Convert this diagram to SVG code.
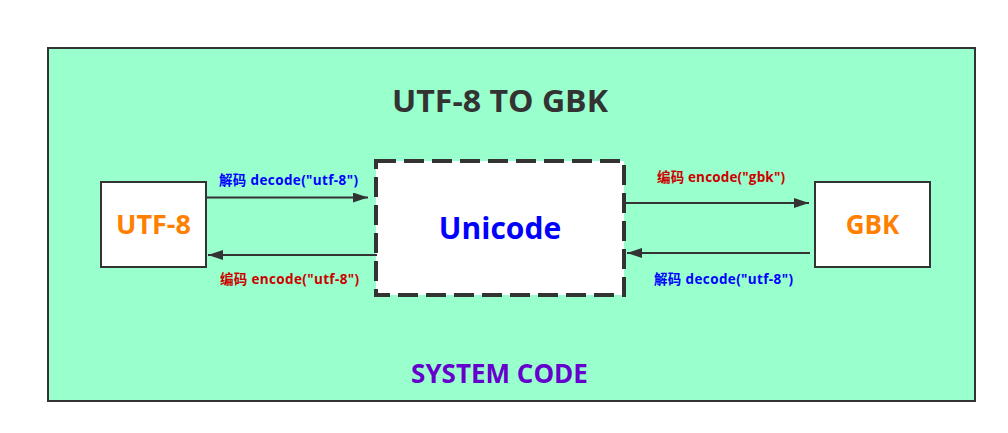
<svg xmlns="http://www.w3.org/2000/svg" width="1008" height="433" viewBox="0 0 1008 433">
  <defs>
    <marker id="arrow" viewBox="0 0 15 10" refX="15" refY="5" markerWidth="15" markerHeight="10" markerUnits="userSpaceOnUse" orient="auto">
      <path d="M0,0 L15,5 L0,10 z" fill="#333333"/>
    </marker>
    <style>
      .box { fill: #ffffff; stroke: #333333; stroke-width: 2; }
      .dash { fill: #ffffff; stroke: #333333; stroke-width: 4; stroke-dasharray: 20 8; }
      .conn { stroke: #333333; stroke-width: 2; fill: none; marker-end: url(#arrow); }
      .lbl { font-family: "Open Sans", "Noto Sans CJK SC", sans-serif; font-weight: bold; font-size: 13.5px; }
      .big { font-family: "Open Sans", "Noto Sans CJK SC", sans-serif; font-weight: bold; text-anchor: middle; }
      .blue { fill: #0000ff; }
      .red { fill: #cc0000; }
      .orange { fill: #ff8000; }
    </style>
  </defs>
  <rect x="0" y="0" width="1008" height="433" fill="#ffffff"/>
  <g id="system">
    <rect x="48" y="48" width="927" height="353" fill="#99ffcc" stroke="#333333" stroke-width="2"/>
    <text class="big" x="500" y="112" font-size="31" fill="#333333" textLength="216" lengthAdjust="spacingAndGlyphs">UTF-8 TO GBK</text>
    <text class="big" x="499.5" y="383" font-size="26" fill="#6600cc">SYSTEM CODE</text>
  </g>
  <g id="utf8">
    <rect class="box" x="101" y="182" width="105" height="85"/>
    <text class="big orange" x="153.5" y="234" font-size="27">UTF-8</text>
  </g>
  <g id="unicode">
    <rect class="dash" x="376" y="161" width="248" height="134"/>
    <text class="big blue" x="500" y="239" font-size="30">Unicode</text>
  </g>
  <g id="gbk">
    <rect class="box" x="815" y="182" width="115" height="85"/>
    <text class="big orange" x="872.5" y="233.5" font-size="26">GBK</text>
  </g>
  <g id="connectors">
    <line class="conn" x1="207" y1="197.5" x2="368" y2="197.5"/>
    <line class="conn" x1="377" y1="255" x2="208" y2="255"/>
    <line class="conn" x1="624" y1="203" x2="809" y2="203"/>
    <line class="conn" x1="810" y1="253" x2="627" y2="253"/>
    <text class="lbl blue" x="219" y="185" textLength="139" lengthAdjust="spacing">解码 decode("utf-8")</text>
    <text class="lbl red" x="220" y="284" textLength="139" lengthAdjust="spacing">编码 encode("utf-8")</text>
    <text class="lbl red" x="657" y="182" textLength="128" lengthAdjust="spacing">编码 encode("gbk")</text>
    <text class="lbl blue" x="654" y="284" textLength="139" lengthAdjust="spacing">解码 decode("utf-8")</text>
  </g>
</svg>
